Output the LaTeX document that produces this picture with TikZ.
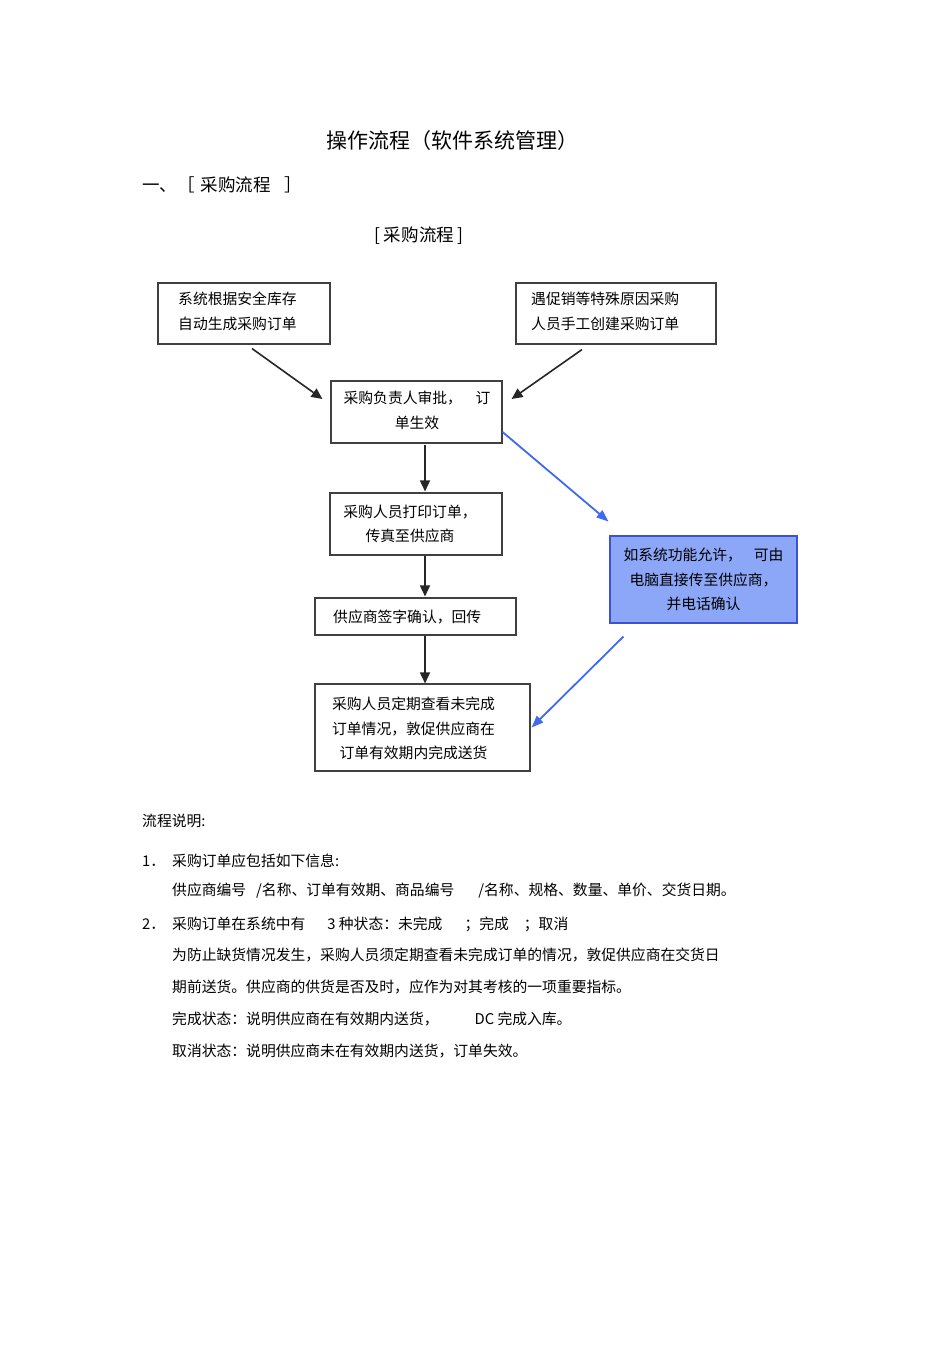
\documentclass[tikz,border=0pt]{standalone}
\usepackage{fontspec}
\setmainfont{Noto Sans CJK SC}
\usetikzlibrary{arrows.meta,calc}
\definecolor{bluefill}{HTML}{8CA6F8}
\definecolor{blueline}{HTML}{3E52D1}
\definecolor{bluearr}{HTML}{3F6AEE}
\begin{document}
\begin{tikzpicture}[x=1pt,y=-1pt,
  box/.style={draw=black!75,line width=1.1pt,fill=white,inner sep=0pt},
  bluebox/.style={draw=blueline,line width=1.1pt,fill=bluefill,inner sep=0pt},
  txt/.style={inner sep=0pt,font=\fontsize{14.8}{24.8}\selectfont},
  para/.style={inner sep=0pt,anchor=west,font=\fontsize{14.8}{24.8}\selectfont},
  arr/.style={line width=1.6pt,draw=black!85,-{Triangle[length=11pt,width=10pt]}},
  barr/.style={line width=1.8pt,draw=bluearr,-{Triangle[length=12pt,width=9pt]}}
]
\path[use as bounding box,fill=white] (0,0) rectangle (950,1345);

% headings
\node[inner sep=0pt,font=\fontsize{21}{24}\selectfont] (title) at (452.5,141) {操作流程（软件系统管理）};
\node[inner sep=0pt,anchor=west,font=\fontsize{17.5}{20}\selectfont] (sec) at (142,185) {一、［\hspace{6pt}采购流程\hspace{14pt}］};
\node[inner sep=0pt,font=\fontsize{17.5}{20}\selectfont] (cap) at (419,236) {[ 采购流程 ]};

% boxes
\node[box,minimum width=172,minimum height=61] (A) at (244,313.5) {};
\node[box,minimum width=200,minimum height=61] (B) at (616,313.5) {};
\node[box,minimum width=171,minimum height=62] (C) at (416.5,412) {};
\node[box,minimum width=172,minimum height=62] (D) at (416,524) {};
\node[box,minimum width=201,minimum height=37] (E) at (415.5,616.5) {};
\node[box,minimum width=215,minimum height=87] (F) at (422.5,727.5) {};
\node[bluebox,minimum width=187,minimum height=87] (G) at (703.5,579.5) {};

% box texts
\node[txt,anchor=west,align=left] (At) at (178,311.5) {系统根据安全库存\\自动生成采购订单};
\node[txt,anchor=west,align=left] (Bt) at (531,311.5) {遇促销等特殊原因采购\\人员手工创建采购订单};
\node[txt,align=center] (Ct) at (417,410.5) {采购负责人审批，\hspace{13.6pt}订\\单生效};
\node[txt,align=center] (Dt) at (410,524) {采购人员打印订单，\\传真至供应商};
\node[txt,anchor=west] (Et) at (333,617) {供应商签字确认，回传};
\node[txt,align=center] (Ft) at (413.5,728.5) {采购人员定期查看未完成\\订单情况，敦促供应商在\\订单有效期内完成送货};
\node[txt,align=center] (Gt) at (703.5,579.5) {如系统功能允许，\hspace{12pt}可由\\电脑直接传至供应商，\\并电话确认};

% connectors
\draw[arr] ($(A.south)+(8,4)$) -- ($(C.west)+(-8,-13)$);
\draw[arr] ($(B.south)+(-34,5)$) -- ($(C.east)+(9,-13)$);
\draw[arr] ($(C.south)+(8.5,1)$) -- ($(D.north)+(9,-1)$);
\draw[arr] ($(D.south)+(9,0)$) -- ($(E.north)+(9.5,-1)$);
\draw[arr] ($(E.south)+(9.5,0)$) -- ($(F.north)+(2.5,0)$);
\draw[barr] ($(C.east)+(0,20)$) -- ($(G.north west)+(-1,-14)$);
\draw[barr] ($(G.south west)+(14,13)$) -- ($(F.east)+(1,0)$);

% explanation
\node[para] (p0) at (142,821) {流程说明:};
\node[para] (n1) at (142,861) {1．};
\node[para] (p1) at (172,861) {采购订单应包括如下信息:};
\node[para] (p2) at (172,891) {供应商编号\hspace{10pt}/名称、订单有效期、商品编号\hspace{24pt}/名称、规格、数量、单价、交货日期。};
\node[para] (n2) at (142,924) {2．};
\node[para] (p3) at (172,924) {采购订单在系统中有\hspace{22pt}3 种状态：未完成\hspace{22pt}；完成\hspace{15pt}；取消};
\node[para] (p4) at (172,955) {为防止缺货情况发生，采购人员须定期查看未完成订单的情况，敦促供应商在交货日};
\node[para] (p5) at (172,987) {期前送货。供应商的供货是否及时，应作为对其考核的一项重要指标。};
\node[para] (p6) at (172,1019) {完成状态：说明供应商在有效期内送货，\hspace{36pt}DC 完成入库。};
\node[para] (p7) at (172,1051) {取消状态：说明供应商未在有效期内送货，订单失效。};
\end{tikzpicture}
\end{document}
